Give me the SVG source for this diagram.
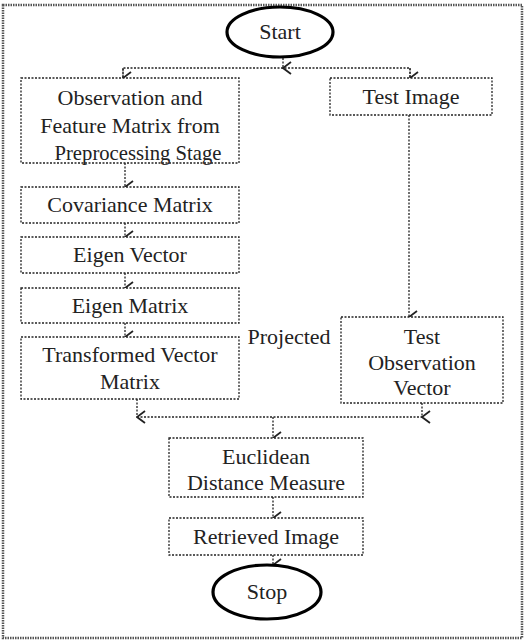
<svg xmlns="http://www.w3.org/2000/svg" width="525" height="641" viewBox="0 0 525 641">
<style>
.box{fill:#fff;stroke:#222;stroke-width:1.3;stroke-dasharray:2 1.5}
.term{fill:#fff;stroke:#000;stroke-width:3.2}
.frame{fill:#fff;stroke:#555;stroke-width:2.5;stroke-dasharray:1.5 1}
.t{font-family:"Liberation Serif",serif;font-size:22px;fill:#222;text-anchor:middle}
.c{fill:none;stroke:#222;stroke-width:1.3;stroke-dasharray:2 1.5}
</style>
<defs>
<marker id="ah" markerWidth="14" markerHeight="12" refX="7" refY="11" orient="auto" markerUnits="userSpaceOnUse" viewBox="0 0 14 12">
<polyline points="1,3 7,11 13,3" fill="none" stroke="#222" stroke-width="1.8"/>
</marker>
</defs>
<rect class="frame" x="3" y="5" width="519" height="633"/>
<g id="connectors">
<line class="c" x1="283" y1="58" x2="283" y2="68" marker-end="url(#ah)"/>
<polyline class="c" points="123,78 123,68 410,68 410,78"/>
<line class="c" x1="123" y1="68" x2="123" y2="78" marker-end="url(#ah)"/>
<line class="c" x1="410" y1="68" x2="410" y2="78" marker-end="url(#ah)"/>
<line class="c" x1="125" y1="163" x2="125" y2="187" marker-end="url(#ah)"/>
<line class="c" x1="125" y1="223" x2="125" y2="237" marker-end="url(#ah)"/>
<line class="c" x1="125" y1="273" x2="125" y2="288" marker-end="url(#ah)"/>
<line class="c" x1="125" y1="323" x2="125" y2="337" marker-end="url(#ah)"/>
<line class="c" x1="409" y1="115" x2="409" y2="317" marker-end="url(#ah)"/>
<line class="c" x1="137" y1="399" x2="137" y2="417" marker-end="url(#ah)"/>
<line class="c" x1="422" y1="403" x2="422" y2="417" marker-end="url(#ah)"/>
<line class="c" x1="137" y1="417" x2="422" y2="417"/>
<line class="c" x1="273" y1="417" x2="273" y2="438" marker-end="url(#ah)"/>
<line class="c" x1="273" y1="497" x2="273" y2="518" marker-end="url(#ah)"/>
<line class="c" x1="273" y1="555" x2="273" y2="565" marker-end="url(#ah)"/>
</g>
<g id="start">
<ellipse class="term" cx="280" cy="32" rx="53" ry="25"/>
<text class="t" x="280" y="39">Start</text>
</g>
<g id="observation">
<rect class="box" x="21" y="78" width="218" height="85"/>
<text class="t" x="130" y="105">Observation and</text>
<text class="t" x="130" y="133">Feature Matrix from</text>
<text class="t" x="138" y="160" textLength="167" lengthAdjust="spacingAndGlyphs">Preprocessing Stage</text>
</g>
<g id="test-image">
<rect class="box" x="330" y="78" width="162" height="37"/>
<text class="t" x="411" y="104">Test Image</text>
</g>
<g id="covariance">
<rect class="box" x="21" y="187" width="218" height="36"/>
<text class="t" x="130" y="212">Covariance Matrix</text>
</g>
<g id="eigen-vector">
<rect class="box" x="21" y="237" width="218" height="36"/>
<text class="t" x="130" y="262">Eigen Vector</text>
</g>
<g id="eigen-matrix">
<rect class="box" x="21" y="288" width="218" height="35"/>
<text class="t" x="130" y="313">Eigen Matrix</text>
</g>
<g id="transformed">
<rect class="box" x="21" y="337" width="218" height="62"/>
<text class="t" x="130" y="362">Transformed Vector</text>
<text class="t" x="130" y="389">Matrix</text>
</g>
<text class="t" x="289" y="344">Projected</text>
<g id="test-observation">
<rect class="box" x="341" y="317" width="162" height="86"/>
<text class="t" x="422" y="344">Test</text>
<text class="t" x="422" y="370">Observation</text>
<text class="t" x="422" y="395">Vector</text>
</g>
<g id="euclidean">
<rect class="box" x="169" y="438" width="194" height="59"/>
<text class="t" x="266" y="464">Euclidean</text>
<text class="t" x="266" y="490">Distance Measure</text>
</g>
<g id="retrieved">
<rect class="box" x="169" y="518" width="194" height="37"/>
<text class="t" x="266" y="544">Retrieved Image</text>
</g>
<g id="stop">
<ellipse class="term" cx="267" cy="592" rx="54" ry="27"/>
<text class="t" x="267" y="599">Stop</text>
</g>
</svg>
